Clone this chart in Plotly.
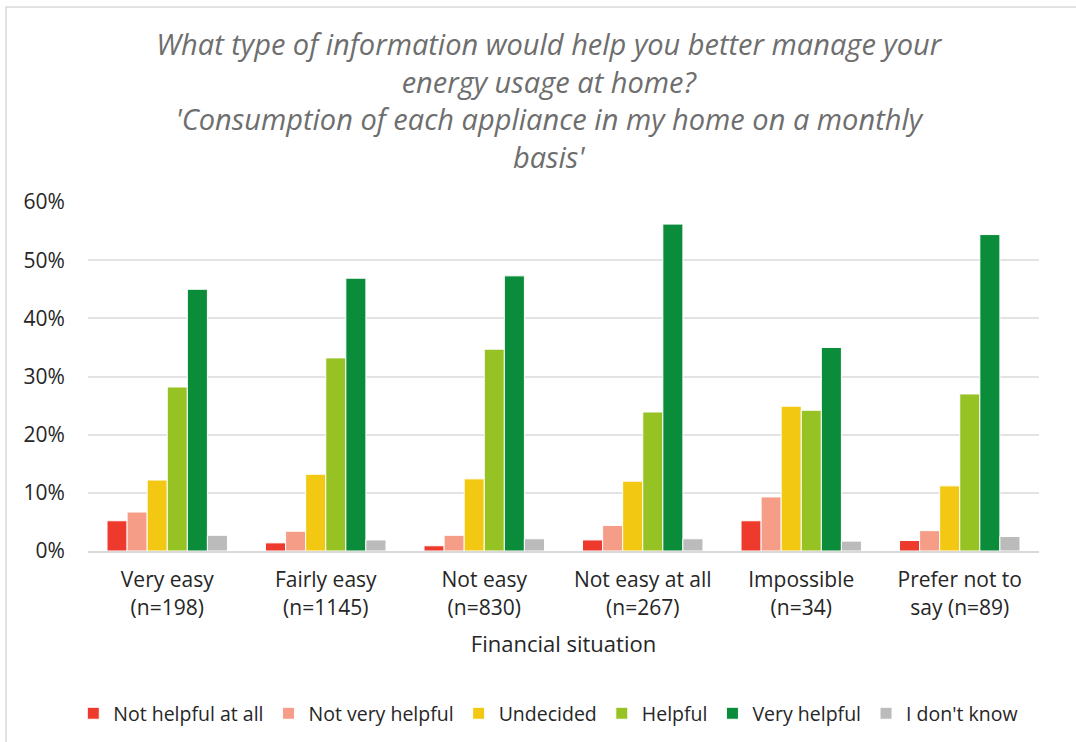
import plotly.graph_objects as go

# --- data ---
categories = ["Very easy<br>(n=198)", "Fairly easy<br>(n=1145)", "Not easy<br>(n=830)",
              "Not easy at all<br>(n=267)", "Impossible<br>(n=34)", "Prefer not to<br>say (n=89)"]

not_helpful_at_all = [0.052, 0.014, 0.009, 0.019, 0.052, 0.018]
not_very_helpful = [0.067, 0.034, 0.027, 0.044, 0.093, 0.035]
undecided = [0.122, 0.132, 0.124, 0.120, 0.249, 0.112]
helpful = [0.282, 0.332, 0.347, 0.239, 0.242, 0.270]
very_helpful = [0.450, 0.469, 0.473, 0.562, 0.350, 0.544]
dont_know = [0.027, 0.019, 0.021, 0.021, 0.017, 0.025]

series = [
    ("Not helpful at all", not_helpful_at_all, "#EE3A2D"),
    ("Not very helpful", not_very_helpful, "#F59D87"),
    ("Undecided", undecided, "#F2C813"),
    ("Helpful", helpful, "#97C224"),
    ("Very helpful", very_helpful, "#0A8C3A"),
    ("I don't know", dont_know, "#BBBBBB"),
]

FONT = "Open Sans"

fig = go.Figure()
for name, vals, col in series:
    fig.add_trace(go.Bar(
        x=categories, y=vals, name=name,
        marker=dict(color=col, line=dict(color="white", width=1)),
    ))

fig.update_layout(
    width=1076, height=742,
    paper_bgcolor="white", plot_bgcolor="white",
    barmode="group", bargap=0.24, bargroupgap=0.0,
    margin=dict(l=88, r=37, t=202, b=191, autoexpand=False),
    font=dict(family=FONT, color="#404040"),
    title=dict(
        text="<i>What type of information would help you better manage your<br>"
             "energy usage at home?<br>"
             "'Consumption of each appliance in my home on a monthly<br>"
             "basis'</i>",
        x=0.51, xanchor="center", y=1 - 55 / 742, yanchor="top",
        font=dict(family=FONT, size=29, color="#6E6E6E"),
    ),
    xaxis=dict(
        title=dict(text="Financial situation", font=dict(size=22, color="#262626"), standoff=17),
        tickfont=dict(size=21, color="#262626"),
        showline=True, linecolor="#D9D9D9", linewidth=2,
        ticks="outside", ticklen=9, tickcolor="white",
    ),
    yaxis=dict(
        range=[0, 0.6], dtick=0.1, tickformat=".0%",
        tickfont=dict(size=21, color="#262626"),
        gridcolor="#E3E3E3", gridwidth=1.5,
        zeroline=False, ticks="outside", ticklen=18, tickcolor="white",
    ),
    legend=dict(
        orientation="h", x=0.484, xanchor="center", y=-0.41, yanchor="top",
        font=dict(size=19.5, color="#262626"), tracegroupgap=0,
    ),
)

# outer chart border (left and top edges visible, others run off the picture)
fig.add_shape(type="rect", xref="paper", yref="paper",
              x0=-82 / 951, x1=1 + 40 / 951, y0=-194 / 349, y1=1 + 195 / 349,
              line=dict(color="#D9D9D9", width=1.5))

fig.write_html("out.html", config={"displayModeBar": False},
               post_script="document.body.style.margin='0';")
